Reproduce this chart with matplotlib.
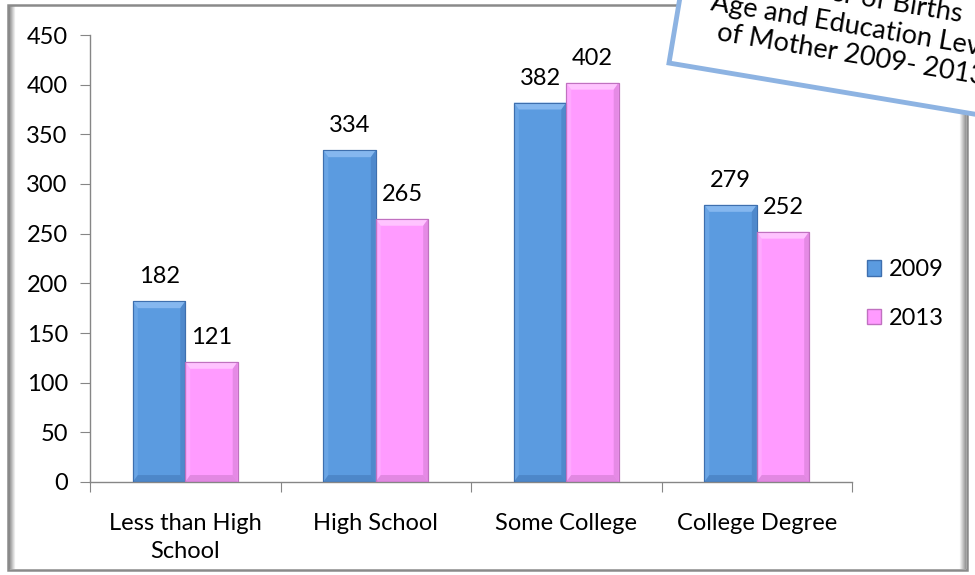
import matplotlib
matplotlib.use("Agg")
import matplotlib.pyplot as plt
import matplotlib.transforms as mtransforms
from matplotlib.patches import Rectangle, Polygon, Patch
import numpy as np

plt.rcParams['font.family'] = ['Lato', 'DejaVu Sans']

categories = ["Less than High\nSchool", "High School", "Some College", "College Degree"]
series_names = ["2009", "2013"]
values_2009 = [182, 334, 382, 279]
values_2013 = [121, 265, 402, 252]
yticks = [0, 50, 100, 150, 200, 250, 300, 350, 400, 450]
title_lines = ["Number of Births", "Age and Education Level", "of Mother 2009- 2013"]

colors = {"2009": ("#5B9BE0", "#8DBDF2", "#3E6FAE"),
          "2013": ("#FF9BFF", "#FFCBFF", "#C071C0")}

FS = 17

fig = plt.figure(figsize=(9.75, 5.75), dpi=100)
fig.patch.set_facecolor("white")

ax = fig.add_axes([90 / 975, 1 - 482 / 575, (852 - 90) / 975, (482 - 35) / 575])
ax.set_xlim(-0.5, 3.5)
ax.set_ylim(0, 450)

bw = 0.275
x = np.arange(len(categories))


def bevel_bar(xc, h, name):
    base, light, dark = colors[name]
    left, right = xc - bw / 2, xc + bw / 2
    ax.bar(xc, h, width=bw, color=base, edgecolor=dark, linewidth=0.8, zorder=2)
    dx, dy = 0.026, 7
    # top bevel
    ax.add_patch(Polygon([[left, h], [right, h], [right - dx, h - dy], [left + dx, h - dy]],
                         closed=True, facecolor=light, edgecolor="none", zorder=3, alpha=0.85))
    # side and bottom bevels
    ax.add_patch(Polygon([[left, 0], [left, h], [left + dx, h - dy], [left + dx, dy]],
                         closed=True, facecolor=light, edgecolor="none", zorder=3, alpha=0.3))
    ax.add_patch(Polygon([[right, 0], [right, h], [right - dx, h - dy], [right - dx, dy]],
                         closed=True, facecolor=dark, edgecolor="none", zorder=3, alpha=0.4))
    ax.add_patch(Polygon([[left, 0], [right, 0], [right - dx, dy], [left + dx, dy]],
                         closed=True, facecolor=dark, edgecolor="none", zorder=3, alpha=0.45))
    ax.add_patch(Rectangle((left, 0), bw, h, facecolor="none", edgecolor=dark,
                           linewidth=0.8, zorder=4))
    ax.text(xc, h + 14, f"{h}", ha="center", va="bottom", fontsize=FS, color="black", zorder=5)


for i in range(len(categories)):
    bevel_bar(x[i] - bw / 2, values_2009[i], "2009")
    bevel_bar(x[i] + bw / 2, values_2013[i], "2013")

for s in ["top", "right"]:
    ax.spines[s].set_visible(False)
for s in ["left", "bottom"]:
    ax.spines[s].set_color("#868686")
    ax.spines[s].set_linewidth(1.0)

ax.set_yticks(yticks)
ax.set_yticklabels([str(v) for v in yticks], fontsize=FS)
ax.tick_params(axis="y", direction="out", length=7, color="#868686", pad=9)
ax.set_xticks(np.arange(-0.5, len(categories), 1.0))
ax.set_xticklabels([])
ax.tick_params(axis="x", which="major", direction="out", length=7, color="#868686")
ax.set_xticks(x, minor=True)
ax.set_xticklabels(categories, minor=True, fontsize=FS, linespacing=1.45)
ax.tick_params(axis="x", which="minor", length=0, pad=22)

# legend
handles = [Patch(facecolor=colors[n][0], edgecolor=colors[n][2], label=n) for n in series_names]
fig.legend(handles=handles, loc="center left", bbox_to_anchor=(855 / 975, 1 - 294 / 575),
           frameon=False, fontsize=FS, handlelength=0.62, handleheight=0.62,
           handletextpad=0.3, labelspacing=1.15, borderpad=0)

# chart frame with shaded left and right edges
frame = fig.add_axes([0, 0, 1, 1], zorder=-1)
frame.set_xlim(0, 975)
frame.set_ylim(575, 0)
frame.axis("off")
grad = np.linspace(0.55, 1.0, 8)[None, :]
frame.imshow(np.repeat(grad, 2, axis=0), cmap="gray", vmin=0, vmax=1,
             extent=(9, 16, 569, 6), aspect="auto", zorder=1)
grad_r = np.linspace(1.0, 0.6, 8)[None, :]
frame.imshow(np.repeat(grad_r, 2, axis=0), cmap="gray", vmin=0, vmax=1,
             extent=(959, 966, 569, 6), aspect="auto", zorder=1)
frame.add_patch(Rectangle((8, 5), 959, 565, facecolor="none", edgecolor="#8a8a8a",
                          linewidth=1.8, zorder=2))

# rotated title box
px = mtransforms.Affine2D().scale(1 / 100.0) + fig.dpi_scale_trans
rot = mtransforms.Affine2D().rotate_deg_around(669, 575 - 63, -9.5) + px
fig.patches.append(Rectangle((669, 575 - 63), 420, 170, facecolor="white",
                             edgecolor="#8DB3E2", linewidth=3.5, transform=rot,
                             figure=fig, zorder=10))
u0, v0 = 669, 575 - 63
line_v = [89, 59, 30]
u_center = 178
for t, vv in zip(title_lines, line_v):
    fig.text(u0 + u_center, v0 + vv, t, transform=rot, rotation=-9.5, rotation_mode="anchor",
             ha="center", va="baseline", fontsize=19.5, color="black", zorder=11)

fig.savefig("out.png", dpi=100)
